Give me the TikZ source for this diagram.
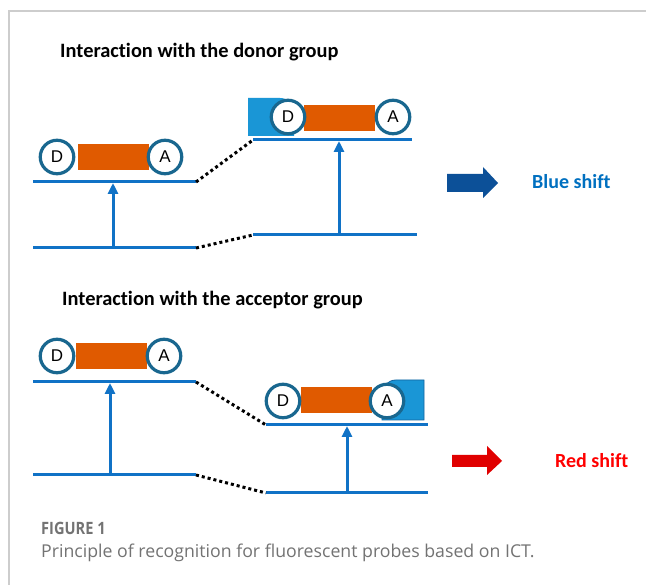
\documentclass[tikz,border=0pt]{standalone}
\usepackage{fontspec}
\setmainfont{Carlito}[Ligatures=NoCommon]
\newfontfamily\capfont{Open Sans}
\newfontfamily\grpfont{Liberation Sans}
\usetikzlibrary{arrows.meta}

\definecolor{lvl}{RGB}{16,114,198}
\definecolor{ring}{RGB}{25,103,143}
\definecolor{bridgeor}{RGB}{224,90,0}
\definecolor{bindblue}{RGB}{26,150,214}
\definecolor{bindedge}{RGB}{18,100,160}
\definecolor{blueshift}{RGB}{12,80,152}
\definecolor{bluetext}{RGB}{0,112,192}
\definecolor{redshift}{RGB}{224,0,0}
\definecolor{redtext}{RGB}{255,0,0}
\definecolor{framegray}{RGB}{205,205,205}
\definecolor{capgray}{RGB}{115,115,115}

\begin{document}
\begin{tikzpicture}[x=1pt,y=-1pt,
  lvlline/.style={lvl, line width=3pt},
  excite/.style={lvl, line width=3pt, -{Triangle[width=10pt,length=11pt]}},
  link/.style={black, line width=3pt, dash pattern=on 3pt off 3pt},
  grp/.style={circle, draw=ring, line width=3.2pt, fill=white, minimum size=33.5pt,
              inner sep=0pt, font=\grpfont\fontsize{17}{17}\selectfont},
  bridge/.style={fill=bridgeor, minimum width=71pt, minimum height=26pt, inner sep=0pt},
  heading/.style={anchor=west, inner sep=0pt, font=\bfseries\fontsize{20.4}{24}\selectfont},
  shiftlabel/.style={anchor=west, inner sep=0pt, font=\bfseries\fontsize{20}{24}\selectfont},
  bound/.style={fill=bindblue, draw=bindedge, line width=0.8pt},
]
\useasboundingbox (0,0) rectangle (646,585);
\fill[white] (0,0) rectangle (646,585);

% frame
\draw[framegray, line width=1.2pt] (9,585) -- (9,11) -- (646,11);

% ---------------- donor interaction ----------------
\node[heading] (h1) at (60,52) {Interaction with the donor group};

% free probe levels
\coordinate (a1) at (33,182);  \coordinate (a2) at (196,182);
\coordinate (a3) at (33,248);  \coordinate (a4) at (196,248);
% bound probe levels
\coordinate (b1) at (253,140); \coordinate (b2) at (412,140);
\coordinate (b3) at (253,235); \coordinate (b4) at (417,235);

\draw[lvlline] (a1) -- (a2);
\draw[lvlline] (a3) -- (a4);
\draw[lvlline] (b1) -- (b2);
\draw[lvlline] (b3) -- (b4);
\draw[link] (a2) -- (b1);
\draw[link] (a4) -- (b3);

\coordinate (ea0) at (113,248); \coordinate (ea1) at (113,183);
\coordinate (eb0) at (339,235); \coordinate (eb1) at (339,141);
\draw[excite] (ea0) -- (ea1);
\draw[excite] (eb0) -- (eb1);

% free probe D-pi-A
\node[bridge] (r1) at (113,157) {};
\node[grp] (d1) at (57,157) {D};
\node[grp] (q1) at (165,157) {A};

% probe with bound donor
\path[fill=bindblue] (248,136) -- (248,98) -- (280,98) to[out=0,in=90] (294,112)
      -- (294,136) -- cycle;
\node[bridge] (r2) at (339,118) {};
\node[grp] (d2) at (288,117) {D};
\node[grp] (q2) at (393,117) {A};

% blue shift arrow
\fill[blueshift] (447,174) -- (483,174) -- (483,167) -- (498,183) -- (483,198)
                 -- (483,192) -- (447,192) -- cycle;
\node[shiftlabel, text=bluetext] (bsl) at (532,182) {Blue shift};

% ---------------- acceptor interaction ----------------
\node[heading] (h2) at (62,300) {Interaction with the acceptor group};

\coordinate (c1) at (33,382);  \coordinate (c2) at (196,382);
\coordinate (c3) at (33,475);  \coordinate (c4) at (196,475);
\coordinate (f1) at (266,425); \coordinate (f2) at (428,425);
\coordinate (f3) at (266,493); \coordinate (f4) at (428,493);

\draw[lvlline] (c1) -- (c2);
\draw[lvlline] (c3) -- (c4);
\draw[lvlline] (f1) -- (f2);
\draw[lvlline] (f3) -- (f4);
\draw[link] (c2) -- (f1);
\draw[link] (c4) -- (f3);

\coordinate (ec0) at (110,475); \coordinate (ec1) at (110,383);
\coordinate (ef0) at (347,493); \coordinate (ef1) at (347,426);
\draw[excite] (ec0) -- (ec1);
\draw[excite] (ef0) -- (ef1);

\node[bridge] (r3) at (111,356) {};
\node[grp] (d3) at (57,356) {D};
\node[grp] (q3) at (164,356) {A};

% probe with bound acceptor
\path[bound] (424,420) -- (424,380) -- (396,380) to[out=180,in=90] (382,394)
      -- (382,420) -- cycle;
\node[bridge] (r4) at (336,400) {};
\node[grp] (d4) at (283,401) {D};
\node[grp] (q4) at (387,401) {A};

% red shift arrow
\fill[redshift] (452,455) -- (487,455) -- (487,446) -- (502,461) -- (487,475)
                -- (487,467) -- (452,467) -- cycle;
\node[shiftlabel, text=redtext] (rsl) at (555,461) {Red shift};

% ---------------- caption ----------------
\node[anchor=west, inner sep=0pt, text=capgray, font=\capfont\bfseries\fontsize{17}{20}\selectfont]
  (fig) at (41,528) {\scalebox{0.86}[1]{FIGURE 1}};
\node[anchor=west, inner sep=0pt, text=capgray, font=\capfont\fontsize{17.7}{20}\selectfont]
  (cap) at (41,553) {Principle of recognition for fluorescent probes based on ICT.};
\end{tikzpicture}
\end{document}
